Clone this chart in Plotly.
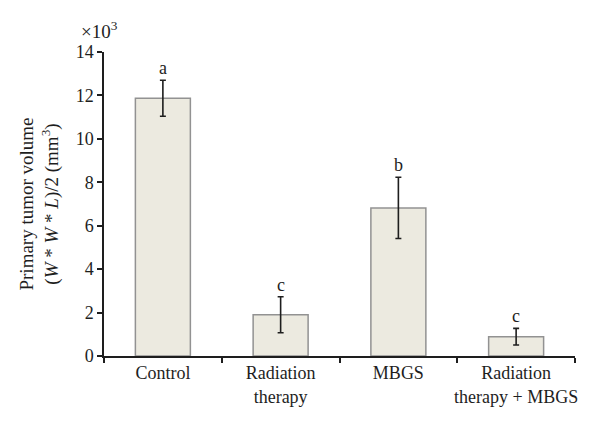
import plotly.graph_objects as go

categories = ["Control", "Radiation<br>therapy", "MBGS", "Radiation<br>therapy + MBGS"]
values = [11.87, 1.90, 6.82, 0.89]      # x10^3 mm^3
errors = [0.83, 0.83, 1.41, 0.38]
letters = ["a", "c", "b", "c"]

FONT = "Liberation Serif, Times New Roman, DejaVu Serif, serif"
FS = 18
INK = "#1e1e1e"

fig = go.Figure()
fig.add_trace(go.Bar(
    x=categories, y=values,
    width=0.467,
    marker=dict(color="#ECEAE0", line=dict(color="#929292", width=1.5)),
    error_y=dict(type="data", array=errors, visible=True,
                 color=INK, thickness=1.6, width=3),
    showlegend=False,
))

for c, v, e, l in zip(categories, values, errors, letters):
    fig.add_annotation(x=c, y=v + e, text=l, showarrow=False,
                       yanchor="bottom", yshift=0,
                       font=dict(family=FONT, size=FS, color=INK))

fig.add_annotation(xref="paper", yref="paper", x=0, y=1.0,
                   text="×10<sup>3</sup>", showarrow=False,
                   xanchor="center", yanchor="bottom", xshift=-5, yshift=8,
                   font=dict(family=FONT, size=19, color=INK))

# page body has an 8px margin; figure is sized to fit the 600x425 window
fig.update_layout(
    width=592, height=417,
    margin=dict(l=96, r=25, t=44, b=69),
    plot_bgcolor="white", paper_bgcolor="white",
    font=dict(family=FONT, size=FS, color=INK),
)
fig.update_xaxes(
    type="category", tickson="boundaries", tickangle=0, automargin=False,
    showline=True, linecolor=INK, linewidth=1.5,
    ticks="outside", ticklen=5, tickcolor=INK, tickwidth=1.5,
    showgrid=False, tickfont=dict(family=FONT, size=FS, color=INK),
    range=[-0.5, 3.5],
)
fig.update_yaxes(
    range=[0, 14], tickvals=[0, 2, 4, 6, 8, 10, 12, 14], automargin=False,
    showline=True, linecolor=INK, linewidth=1.5,
    ticks="outside", ticklen=5, tickcolor=INK, tickwidth=1.5,
    showgrid=False, zeroline=False,
    tickfont=dict(family=FONT, size=FS, color=INK),
    title=dict(text="Primary tumor volume<br>(<i>W</i> * <i>W</i> * <i>L</i>)/2 (mm<sup>3</sup>)",
               font=dict(family=FONT, size=19, color=INK), standoff=12),
)

fig.write_html("out.html")
